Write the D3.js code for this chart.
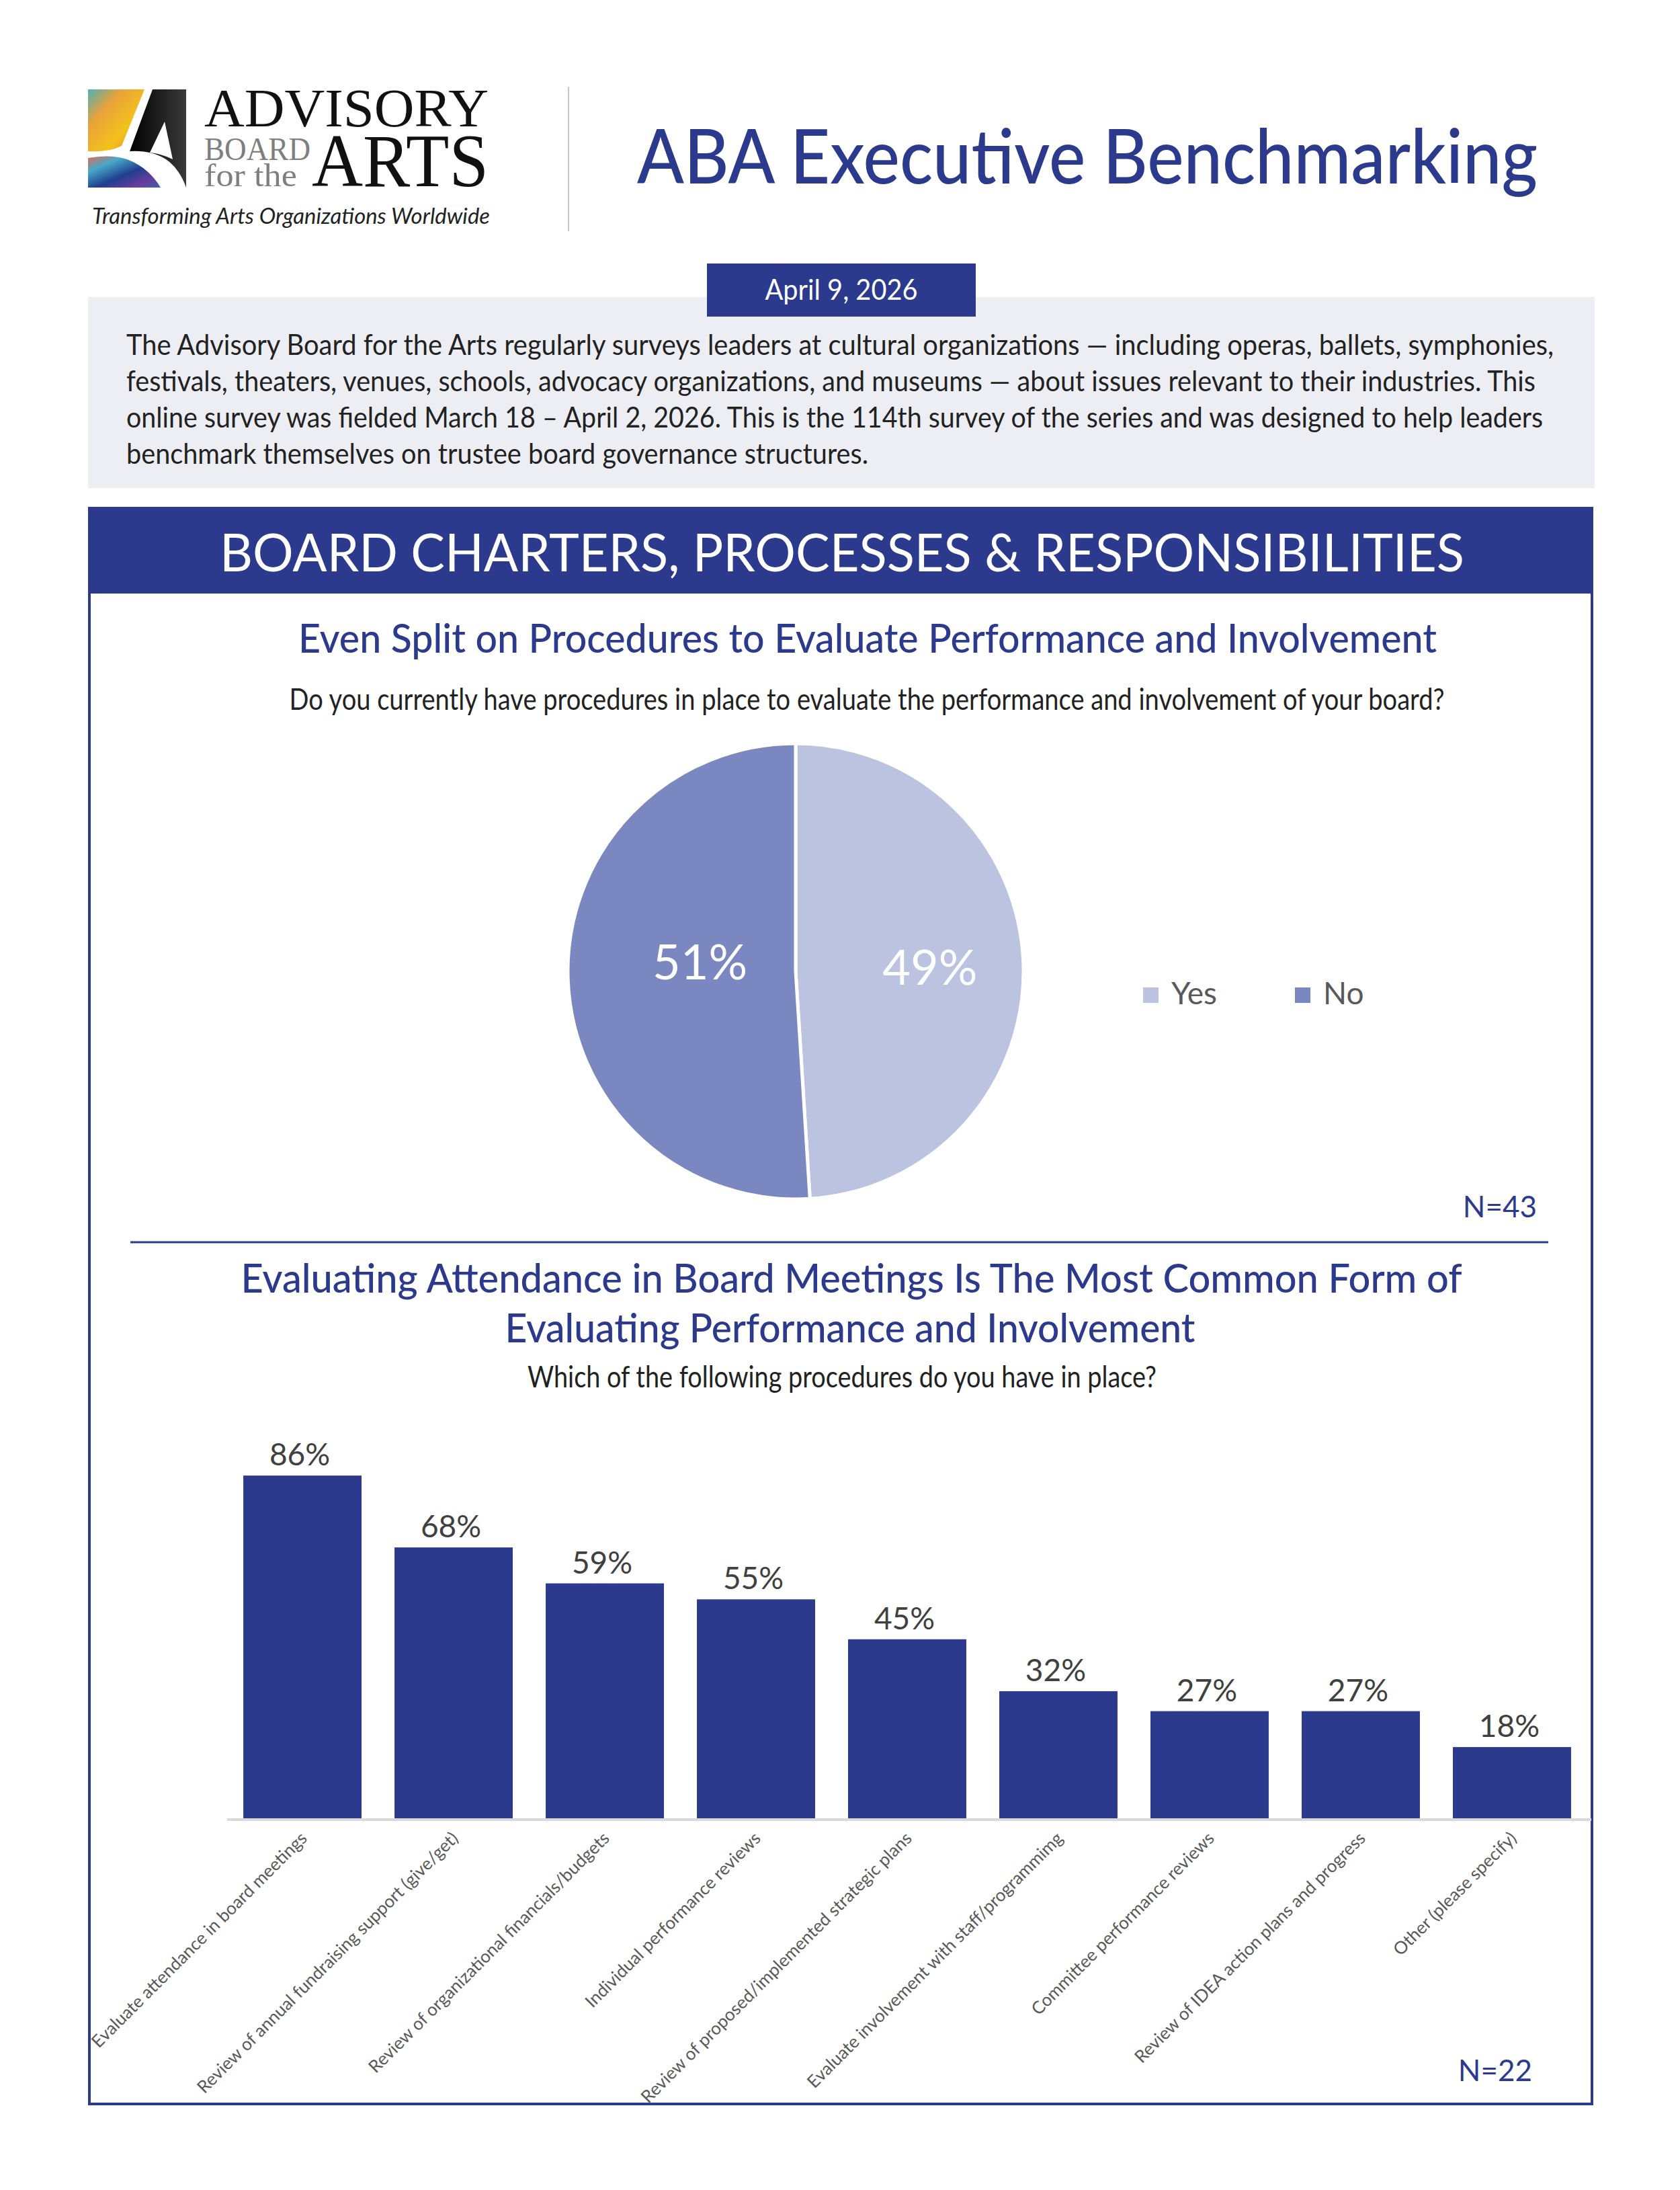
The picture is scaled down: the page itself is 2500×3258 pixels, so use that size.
<!DOCTYPE html>
<html>
<head>
<meta charset="utf-8">
<script src="https://cdn.jsdelivr.net/npm/d3@7"></script>
<style>
  html, body { margin: 0; padding: 0; background: #ffffff; }
  svg { display: block; }
  text { font-family: Lato, "Open Sans", "Noto Sans", sans-serif; }
  text.serif { font-family: "Liberation Serif", "DejaVu Serif", serif; }
</style>
</head>
<body>
<svg id="chart" width="2500" height="3258"></svg>
<script>
// ---------------- DATA ----------------
const pieCategories = ["Yes", "No"];
const pieValues = [49, 51];
const pieLabels = ["49%", "51%"];
const pieN = "N=43";

const barCategories = [
  "Evaluate attendance in board meetings",
  "Review of annual fundraising support (give/get)",
  "Review of organizational financials/budgets",
  "Individual performance reviews",
  "Review of proposed/implemented strategic plans",
  "Evaluate involvement with staff/programmimg",
  "Committee performance reviews",
  "Review of IDEA action plans and progress",
  "Other (please specify)"
];
const barValues = [86, 68, 59, 55, 45, 32, 27, 27, 18];
const barN = "N=22";

const paragraphLines = [
  "The Advisory Board for the Arts regularly surveys leaders at cultural organizations \u2014 including operas, ballets, symphonies,",
  "festivals, theaters, venues, schools, advocacy organizations, and museums \u2014 about issues relevant to their industries. This",
  "online survey was fielded March 18 \u2013 April 2, 2026. This is the 114th survey of the series and was designed to help leaders",
  "benchmark themselves on trustee board governance structures."
];

// ---------------- STYLE ----------------
const BLUE = "#2c3a8e";
const svg = d3.select("#chart");
svg.append("rect").attr("width", 2500).attr("height", 3258).attr("fill", "#fff");

function fit(sel, w) {
  const n = sel.node();
  const cur = n.getComputedTextLength();
  if (cur > 0 && Math.abs(cur - w) > 2) {
    sel.attr("textLength", w).attr("lengthAdjust", "spacingAndGlyphs");
  }
  return sel;
}

// ---------------- LOGO ----------------
const defs = svg.append("defs");
const g1 = defs.append("linearGradient").attr("id", "warm").attr("x1", 0).attr("y1", 0).attr("x2", 1).attr("y2", 1);
g1.append("stop").attr("offset", "0%").attr("stop-color", "#4fb0b8");
g1.append("stop").attr("offset", "30%").attr("stop-color", "#e9a23a");
g1.append("stop").attr("offset", "65%").attr("stop-color", "#f3c21c");
g1.append("stop").attr("offset", "100%").attr("stop-color", "#e7772a");
const g2 = defs.append("linearGradient").attr("id", "cool").attr("x1", 0).attr("y1", 0).attr("x2", 1).attr("y2", 1);
g2.append("stop").attr("offset", "0%").attr("stop-color", "#e6675a");
g2.append("stop").attr("offset", "25%").attr("stop-color", "#47a9c8");
g2.append("stop").attr("offset", "55%").attr("stop-color", "#1f3f8f");
g2.append("stop").attr("offset", "80%").attr("stop-color", "#6a3c9c");
g2.append("stop").attr("offset", "100%").attr("stop-color", "#3c5fb0");
const blk = defs.append("linearGradient").attr("id", "blk").attr("x1", 0).attr("y1", 0).attr("x2", 1).attr("y2", 0);
blk.append("stop").attr("offset", "0%").attr("stop-color", "#000");
blk.append("stop").attr("offset", "100%").attr("stop-color", "#3a3a3a");

const logo = svg.append("g").attr("transform", "translate(131,133)");
logo.append("path").attr("d", "M0,0 H84 L50,84 Q30,94 0,92 Z").attr("fill", "url(#warm)");
logo.append("path").attr("d", "M0,102 Q34,96 58,104 Q90,116 108,146 H0 Z").attr("fill", "url(#cool)");
logo.append("path").attr("d", "M96,0 H146 V146 Q136,118 116,104 Q94,90 62,92 Z").attr("fill", "url(#blk)");
logo.append("path").attr("d", "M114,48 L126,104 Q110,96 92,94 Z").attr("fill", "#fff");

fit(svg.append("text").attr("class", "serif").attr("x", 304).attr("y", 188)
  .attr("font-size", 80).attr("fill", "#111").text("ADVISORY"), 423);
fit(svg.append("text").attr("class", "serif").attr("x", 304).attr("y", 238)
  .attr("font-size", 48).attr("fill", "#7f7f7f").text("BOARD"), 158);
fit(svg.append("text").attr("class", "serif").attr("x", 304).attr("y", 277)
  .attr("font-size", 48).attr("fill", "#7f7f7f").text("for the"), 138);
fit(svg.append("text").attr("class", "serif").attr("x", 464).attr("y", 277)
  .attr("font-size", 112).attr("fill", "#111").text("ARTS"), 263);
fit(svg.append("text").attr("x", 137).attr("y", 333).attr("font-style", "italic")
  .attr("font-size", 32).attr("fill", "#222").text("Transforming Arts Organizations Worldwide"), 592);

svg.append("line").attr("x1", 846).attr("x2", 846).attr("y1", 129).attr("y2", 344)
  .attr("stroke", "#c8c8c8").attr("stroke-width", 2);

fit(svg.append("text").attr("x", 948).attr("y", 273).attr("font-size", 112).attr("font-weight", 500)
  .attr("fill", BLUE).text("ABA Executive Benchmarking"), 1340);

// ---------------- INTRO BOX ----------------
svg.append("rect").attr("x", 131).attr("y", 442).attr("width", 2242).attr("height", 284).attr("fill", "#eceef3");
svg.append("rect").attr("x", 1052).attr("y", 392).attr("width", 400).attr("height", 79).attr("fill", BLUE);
fit(svg.append("text").attr("x", 1252).attr("y", 446).attr("text-anchor", "middle").attr("font-size", 42)
  .attr("fill", "#fff").text("April 9, 2026"), 227);

const paraW = [2124, 2097, 2108, 1104];
paragraphLines.forEach((t, i) => {
  fit(svg.append("text").attr("x", 188).attr("y", 528 + i * 54).attr("font-size", 43)
    .attr("fill", "#222").text(t), paraW[i]);
});

// ---------------- SECTION FRAME ----------------
svg.append("rect").attr("x", 131).attr("y", 754).attr("width", 2240).attr("height", 129).attr("fill", BLUE);
svg.append("rect").attr("x", 133).attr("y", 756).attr("width", 2236).attr("height", 2374)
  .attr("fill", "none").attr("stroke", BLUE).attr("stroke-width", 4);
fit(svg.append("text").attr("x", 1253).attr("y", 850).attr("text-anchor", "middle").attr("font-size", 78)
  .attr("fill", "#fff").text("BOARD CHARTERS, PROCESSES & RESPONSIBILITIES"), 1852);

// ---------------- PIE CHART ----------------
fit(svg.append("text").attr("x", 1291).attr("y", 971).attr("text-anchor", "middle").attr("font-size", 60)
  .attr("font-weight", 500).attr("fill", BLUE)
  .text("Even Split on Procedures to Evaluate Performance and Involvement"), 1694);
fit(svg.append("text").attr("x", 1290).attr("y", 1056).attr("text-anchor", "middle").attr("font-size", 44)
  .attr("fill", "#222")
  .text("Do you currently have procedures in place to evaluate the performance and involvement of your board?"), 1719);

const pieColor = d3.scaleOrdinal().domain(pieCategories).range(["#bcc3e1", "#7a87c0"]);
const pieData = pieCategories.map((c, i) => ({ cat: c, value: pieValues[i], label: pieLabels[i] }));
const pie = d3.pie().sort(null).value(d => d.value);
const R = 339;
const arc = d3.arc().innerRadius(0).outerRadius(R);
const pg = svg.append("g").attr("transform", "translate(1184,1445)");
const arcs = pie(pieData);
pg.selectAll("path.slice").data(arcs).join("path").attr("class", "slice")
  .attr("d", arc).attr("fill", d => pieColor(d.data.cat))
  .attr("stroke", "#fff").attr("stroke-width", 5);
// label placement: fraction of radius along the slice's mid-angle, plus a small vertical nudge
const labelRadius = [0.59, 0.42];
const labelNudge = [0, -18];
pg.selectAll("text.plab").data(arcs).join("text").attr("class", "plab")
  .attr("transform", (d, i) => {
    const a = (d.startAngle + d.endAngle) / 2;
    const r = R * labelRadius[i];
    return `translate(${Math.sin(a) * r},${-Math.cos(a) * r + labelNudge[i]})`;
  })
  .attr("text-anchor", "middle").attr("dy", "0.36em")
  .attr("font-size", 72).attr("fill", "#fff").text(d => d.data.label);

// legend
const legX = [1701, 1927];
pieCategories.forEach((c, i) => {
  svg.append("rect").attr("x", legX[i]).attr("y", 1469).attr("width", 23).attr("height", 23).attr("fill", pieColor(c));
  svg.append("text").attr("x", legX[i] + 42).attr("y", 1494).attr("font-size", 46).attr("fill", "#595959").text(c);
});
svg.append("text").attr("x", 2287).attr("y", 1811).attr("text-anchor", "end").attr("font-size", 44)
  .attr("fill", BLUE).text(pieN);

svg.append("line").attr("x1", 194).attr("x2", 2304).attr("y1", 1848).attr("y2", 1848)
  .attr("stroke", BLUE).attr("stroke-width", 3);

// ---------------- BAR CHART ----------------
fit(svg.append("text").attr("x", 1267).attr("y", 1923).attr("text-anchor", "middle").attr("font-size", 60)
  .attr("font-weight", 500).attr("fill", BLUE)
  .text("Evaluating Attendance in Board Meetings Is The Most Common Form of"), 1817);
fit(svg.append("text").attr("x", 1265).attr("y", 1997).attr("text-anchor", "middle").attr("font-size", 60)
  .attr("font-weight", 500).attr("fill", BLUE)
  .text("Evaluating Performance and Involvement"), 1027);
fit(svg.append("text").attr("x", 1253).attr("y", 2064).attr("text-anchor", "middle").attr("font-size", 44)
  .attr("fill", "#222").text("Which of the following procedures do you have in place?"), 936);

const x = d3.scaleBand().domain(barCategories).range([338, 2362]).paddingInner(0.218).paddingOuter(0.107);
const y = d3.scaleLinear().domain([0, 100]).range([2706, 2112]);
const bars = barCategories.map((c, i) => ({ cat: c, value: barValues[i] }));

svg.append("g").selectAll("rect").data(bars).join("rect")
  .attr("x", d => x(d.cat)).attr("width", x.bandwidth())
  .attr("y", d => y(d.value)).attr("height", d => y(0) - y(d.value))
  .attr("fill", BLUE);

svg.append("line").attr("x1", 338).attr("x2", 2368).attr("y1", y(0) + 1).attr("y2", y(0) + 1)
  .attr("stroke", "#d9d9d9").attr("stroke-width", 4);

svg.append("g").selectAll("text").data(bars).join("text")
  .attr("x", d => x(d.cat) + x.bandwidth() / 2 - 4).attr("y", d => y(d.value) - 15)
  .attr("text-anchor", "middle").attr("font-size", 46).attr("fill", "#404040")
  .text(d => d.value + "%");

const xAxis = svg.append("g").attr("transform", `translate(0,${y(0)})`)
  .call(d3.axisBottom(x).tickSize(0));
xAxis.select(".domain").remove();
xAxis.selectAll(".tick text")
  .attr("font-size", 26).attr("fill", "#595959")
  .attr("text-anchor", "end").attr("x", 0).attr("y", 0).attr("dy", "0.35em")
  .attr("transform", "translate(2,24) rotate(-45)");

svg.append("text").attr("x", 2280).attr("y", 3096).attr("text-anchor", "end").attr("font-size", 44)
  .attr("fill", BLUE).text(barN);
</script>
</body>
</html>
